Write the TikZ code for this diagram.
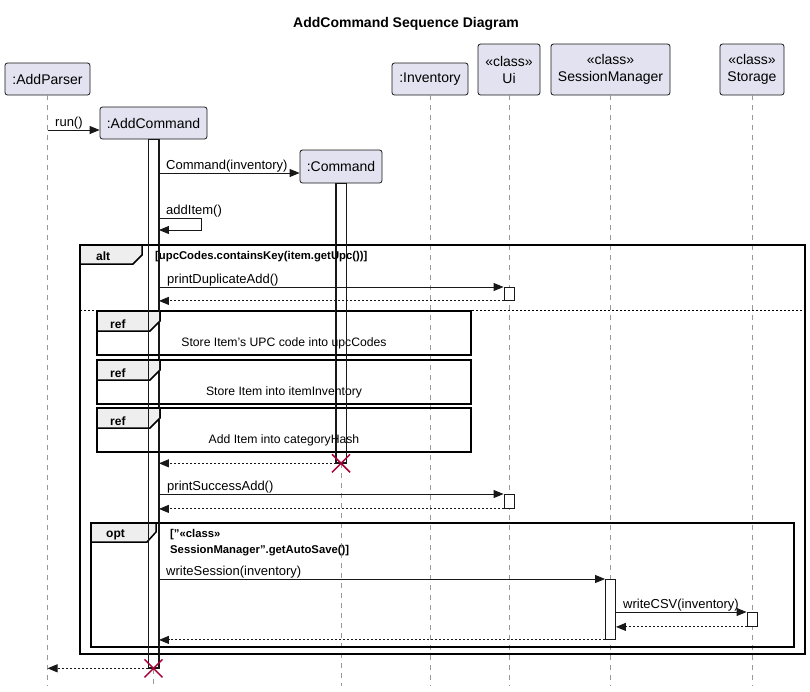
\documentclass[tikz,border=0pt]{standalone}
\usepackage{fontspec}
\setmainfont{Liberation Sans}
\usetikzlibrary{arrows.meta}
\definecolor{partfill}{HTML}{E2E2F0}
\definecolor{partline}{HTML}{181818}
\definecolor{tabfill}{HTML}{EEEEEE}
\definecolor{xred}{HTML}{A80036}
\tikzset{
  part/.style={draw=partline, fill=partfill, rounded corners=2.5pt, line width=0.8pt, inner sep=0pt, align=center, font=\fontsize{14}{17}\selectfont},
  life/.style={draw=gray!80, line width=0.7pt, dash pattern=on 5pt off 5pt},
  act/.style={draw=partline, fill=white, line width=0.9pt, minimum width=10pt, inner sep=0pt, anchor=north},
  actline/.style={draw=partline, line width=0.9pt},
  msg/.style={draw=partline, line width=0.9pt, -{Triangle[length=10pt,width=8pt]}},
  ret/.style={msg, dash pattern=on 2pt off 2pt},
  lbl/.style={anchor=base west, inner sep=0pt, font=\fontsize{13}{15}\selectfont},
  frame/.style={draw=black, line width=1.5pt},
  tab/.style={draw=black, fill=tabfill, line width=1.5pt},
  tabtxt/.style={anchor=base west, inner sep=0pt, font=\fontsize{12}{14}\selectfont\bfseries},
  guard/.style={anchor=base west, inner sep=0pt, font=\fontsize{11.3}{16}\selectfont\bfseries, align=left},
  reftxt/.style={anchor=base, inner sep=0pt, font=\fontsize{12.2}{14}\selectfont},
  xmark/.style={draw=xred, line width=1.5pt}
}
\begin{document}
\begin{tikzpicture}[x=1pt,y=-1pt]
\useasboundingbox[fill=white] (0,0) rectangle (810,691);
% title
\node[font=\fontsize{14}{16}\selectfont\bfseries, inner sep=0pt] (title) at (406,24) {AddCommand Sequence Diagram};
% participants
\node[part, minimum width=85pt, minimum height=32pt] (addparser) at (47.5,79) {:AddParser};
\node[part, minimum width=107pt, minimum height=32pt] (addcmd) at (153.5,123) {:AddCommand};
\node[part, minimum width=82pt, minimum height=33pt] (cmd) at (341,166.5) {:Command};
\node[part, minimum width=76pt, minimum height=32pt] (inv) at (430,79) {:Inventory};
\node[part, minimum width=62pt, minimum height=51pt] (ui) at (509,69.5) {«class»\\Ui};
\node[part, minimum width=119pt, minimum height=51pt] (sm) at (610.5,69.5) {«class»\\SessionManager};
\node[part, minimum width=64pt, minimum height=51pt] (st) at (752,69.5) {«class»\\Storage};
% lifelines
\foreach \p/\len in {addparser/591, addcmd/547, cmd/503, inv/591, ui/591, sm/591, st/591}
  \draw[life] (\p.south) -- ++(0,\len);
% activations
\node[act, minimum height=528pt] (a1) at (addcmd.south) {};
\node[act, minimum height=279pt] (a2) at (cmd.south) {};
\node[act, minimum height=13pt] (u1) at (ui.south |- 0,287) {};
\node[act, minimum height=14pt] (u2) at (ui.south |- 0,494) {};
\node[act, minimum height=60pt] (s1) at (sm.south |- 0,579) {};
\node[act, minimum height=14pt] (t1) at (st.south |- 0,612) {};
% alt frame
\draw[frame] (80,245) rectangle (805,654);
\draw[tab] (80,245) -- (142,245) -- (142,255) -- (133,264) -- (80,264) -- cycle;
\node[tabtxt] (alttxt) at (96,260) {alt};
\node[guard] (altguard) at (155,259) {[upcCodes.containsKey(item.getUpc())]};
\draw[draw=black, line width=1pt, dash pattern=on 2pt off 2pt] (80,310) -- (805,310);
% ref frames
\foreach \t/\txt/\nm in {311/{Store Item's UPC code into upcCodes}/r1, 360/{Store Item into itemInventory}/r2, 408/{Add Item into categoryHash}/r3} {
  \draw[frame] (97,\t) rectangle (471,\t+44);
  \draw[tab] (97,\t) -- (160,\t) -- (160,\t+10) -- (150,\t+20) -- (97,\t+20) -- cycle;
  \node[tabtxt] (\nm tab) at (110,\t+17) {ref};
  \node[reftxt] (\nm) at (284,\t+35.5) {\txt};
}
% opt frame
\draw[frame] (91,523) rectangle (794,647);
\draw[tab] (91,523) -- (156,523) -- (156,532) -- (147,542) -- (91,542) -- cycle;
\node[tabtxt] (opttxt) at (106,537) {opt};
\node[guard] (optguard) at (170,553) {["«class»\\SessionManager".getAutoSave()]};
% activation outlines on top
\foreach \a in {a1,a2}
  \draw[actline] (\a.north west) rectangle (\a.south east);
% messages
\draw[msg] (addparser.south |- 0,130) -- (addcmd.west |- 0,130);
\node[lbl] (l1) at (55,126) {run()};
\draw[msg] (a1.east |- 0,173) -- (cmd.west |- 0,173);
\node[lbl] (l2) at (166,169) {Command(inventory)};
\draw[msg] (a1.east |- 0,218) -- ++(42,0) -- ++(0,12) -- (a1.east |- 0,230);
\node[lbl] (l3) at (166,214) {addItem()};
\draw[msg] (a1.east |- u1.north) -- (u1.north west);
\node[lbl] (l4) at (167,283) {printDuplicateAdd()};
\draw[ret] (u1.south west) -- (a1.east |- u1.south);
\draw[ret] (a2.south west) -- (a1.east |- a2.south);
\draw[msg] (a1.east |- u2.north) -- (u2.north west);
\node[lbl] (l5) at (167,490) {printSuccessAdd()};
\draw[ret] (u2.south west) -- (a1.east |- u2.south);
\draw[msg] (a1.east |- s1.north) -- (s1.north west);
\node[lbl] (l6) at (166,575) {writeSession(inventory)};
\draw[msg] (s1.east |- t1.north) -- (t1.north west);
\node[lbl] (l7) at (623,608) {writeCSV(inventory)};
\draw[ret] (t1.south west) -- (s1.east |- t1.south);
\draw[ret] (s1.south west) -- (a1.east |- s1.south);
\draw[ret] (a1.south west) -- (addparser.south |- a1.south);
% destroy marks
\draw[xmark] ([shift={(-9pt,9pt)}]a2.south) -- ([shift={(9pt,-9pt)}]a2.south)
             ([shift={(-9pt,-9pt)}]a2.south) -- ([shift={(9pt,9pt)}]a2.south);
\draw[xmark] ([shift={(-9pt,9pt)}]a1.south) -- ([shift={(9pt,-9pt)}]a1.south)
             ([shift={(-9pt,-9pt)}]a1.south) -- ([shift={(9pt,9pt)}]a1.south);
\end{tikzpicture}
\end{document}
